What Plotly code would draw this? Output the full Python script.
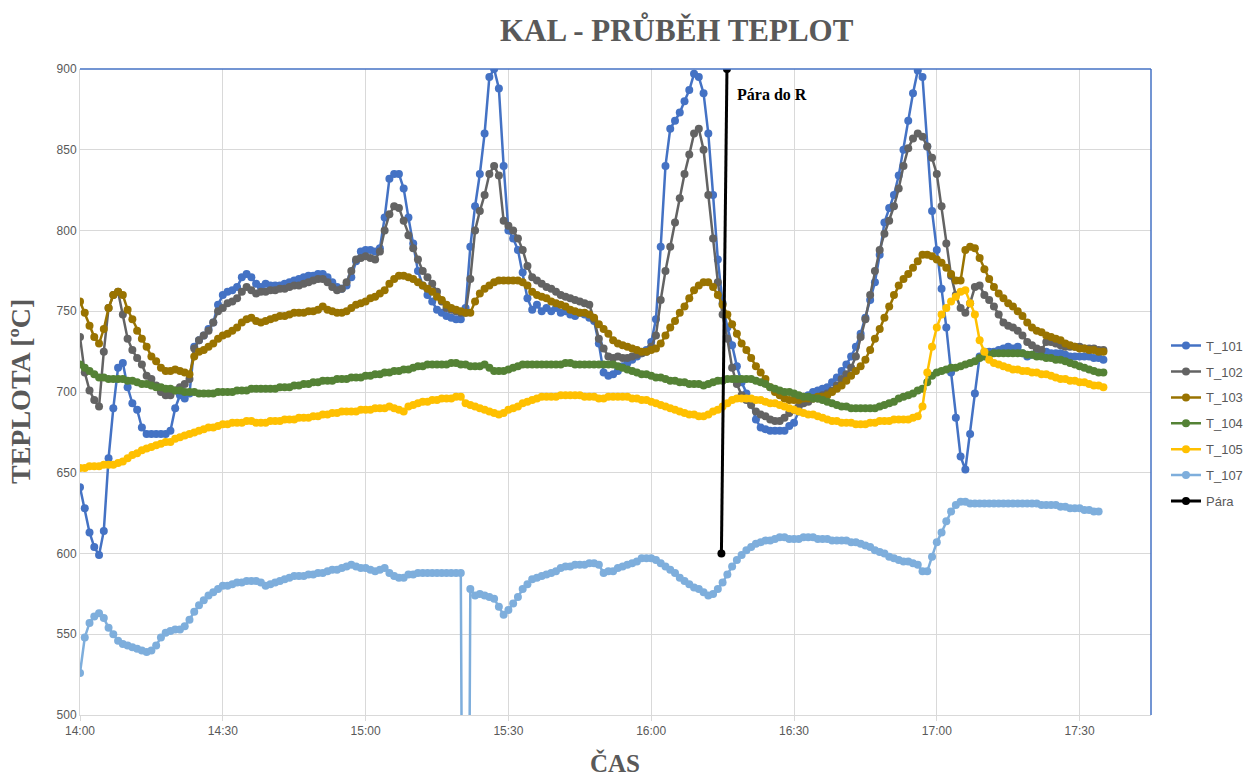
import pandas as pd
import plotly.graph_objects as go

# Sampling: one reading per minute starting at 14:00
start = pd.Timestamp("2021-03-01 14:00")

t_101 = [
    641, 628, 613, 604, 599, 614, 659, 690, 715, 718,
    703, 693, 689, 678, 674, 674, 674, 674, 674, 676,
    690, 698, 696, 699, 728, 732, 735, 739, 743, 754,
    760, 762, 763, 765, 771, 773, 771, 767, 765, 767,
    766, 766, 766, 767, 768, 769, 770, 771, 772, 772,
    773, 773, 771, 768, 765, 764, 766, 771, 781, 787,
    788, 788, 787, 789, 808, 832, 835, 835, 826, 808,
    792, 775, 766, 760, 756, 751, 749, 747, 746, 745,
    745, 752, 790, 815, 835, 860, 895, 900, 888, 840,
    800, 795, 788, 774, 758, 751, 754, 750, 752, 750,
    752, 749, 750, 748, 747, 749, 748, 746, 744, 730,
    712, 710, 711, 713, 716, 718, 720, 722, 724, 726,
    731, 745, 790, 840, 863, 868, 873, 880, 887, 897,
    895, 885, 860, 822, 782, 755, 740, 729, 716, 706,
    699, 693, 683, 678, 677, 676, 676, 676, 676, 679,
    681, 688, 694, 698, 700, 701, 702, 703, 706, 709,
    713, 717, 722, 728, 736, 746, 757, 768, 785, 805,
    814, 822, 834, 850, 868, 885, 899, 895, 852, 812,
    788, 764, 740, 712, 684, 660, 652, 674, 699, 722,
    725, 725, 725, 726, 727, 728, 727, 728, 724, 722,
    723, 725, 725, 725, 724, 724, 724, 723, 722, 722,
    722, 722, 722, 721, 721, 720,
]

t_102 = [
    734, 712, 701, 695, 691, 725, 752, 760, 762, 748,
    733, 726, 721, 717, 710, 708, 704, 700, 698, 698,
    701, 703, 705, 708, 727, 732, 735, 738, 743, 750,
    752, 755, 756, 758, 762, 765, 763, 761, 762, 762,
    763, 763, 764, 764, 765, 766, 766, 767, 768, 769,
    770, 770, 768, 765, 763, 764, 768, 775, 782, 783,
    784, 783, 782, 787, 800, 810, 815, 814, 806, 797,
    789, 782, 775, 771, 767, 762, 756, 752, 751, 750,
    749, 749, 770, 800, 812, 822, 835, 840, 834, 806,
    803, 800, 795, 788, 778, 771, 769, 767, 765, 764,
    762, 760, 759, 758, 757, 756, 755, 754, 745, 733,
    727, 722, 721, 722, 721, 721, 722, 723, 724, 725,
    728, 735, 757, 775, 790, 805, 820, 835, 847, 860,
    863, 850, 822, 795, 768, 748, 733, 715, 705, 698,
    695, 692, 688, 686, 685, 683, 682, 682, 684, 687,
    689, 691, 693, 694, 696, 696, 698, 699, 701, 704,
    708, 711, 715, 722, 734, 745, 760, 775, 788, 798,
    806, 815, 826, 840, 851, 857, 860, 858, 852, 845,
    835, 815, 792, 772, 760, 752, 749, 755, 765, 766,
    760, 757, 753, 748, 743, 741, 740, 738, 735, 731,
    729, 727, 726, 731, 731, 730, 729, 728, 728, 728,
    728, 727, 727, 727, 726, 726,
]

t_103 = [
    756, 749, 741, 734, 730, 739, 752, 760, 762, 760,
    751, 745, 738, 733, 728, 722, 719, 715, 713, 713,
    714, 713, 712, 711, 722, 725, 726, 728, 730, 733,
    735, 736, 738, 740, 743, 745, 746, 744, 743, 744,
    745, 746, 747, 747, 748, 749, 749, 749, 750, 750,
    751, 753, 751, 750, 749, 749, 750, 752, 754, 755,
    756, 758, 759, 761, 763, 767, 770, 772, 772, 771,
    770, 768, 766, 764, 762, 759, 757, 754, 752, 751,
    750, 749, 749, 756, 761, 764, 766, 768, 769, 769,
    769, 769, 769, 768, 766, 762, 760, 759, 758, 756,
    755, 754, 753, 751, 750, 749, 749, 748, 746, 742,
    739, 736, 732, 730, 729, 728, 727, 726, 725, 725,
    726, 727, 730, 735, 740, 744, 749, 753, 758, 763,
    766, 768, 768, 765, 760, 754, 748, 742, 736, 730,
    726, 721, 716, 712, 708, 703, 700, 698, 696, 695,
    695, 695, 696, 696, 696, 697, 697, 698, 700, 702,
    704, 707, 710, 713, 716, 720, 726, 733, 739, 746,
    753, 760, 766, 770, 773, 777, 781, 785, 785, 784,
    782, 780, 777, 773, 769, 769, 788, 790, 789, 783,
    776, 770, 765, 761, 758, 755, 753, 750, 747, 743,
    740, 738, 737, 735, 734, 733, 732, 730, 729, 728,
    727, 727, 726, 726, 725, 725,
]

t_104 = [
    717, 715, 713, 711, 709, 709, 708, 708, 708, 708,
    707, 707, 706, 705, 705, 704, 703, 703, 702, 702,
    701, 701, 700, 700, 700, 699, 699, 699, 699, 700,
    700, 700, 700, 701, 701, 701, 702, 702, 702, 702,
    702, 702, 703, 703, 703, 704, 704, 705, 705, 706,
    706, 707, 707, 707, 708, 708, 708, 709, 709, 709,
    710, 710, 711, 711, 712, 712, 713, 713, 714, 714,
    715, 716, 716, 717, 717, 717, 717, 717, 718, 718,
    717, 717, 716, 716, 716, 717, 715, 713, 713, 713,
    714, 715, 716, 717, 717, 717, 717, 717, 717, 717,
    717, 717, 718, 718, 717, 717, 717, 717, 717, 717,
    717, 717, 717, 716, 715, 714, 713, 712, 711, 711,
    710, 709, 709, 708, 707, 707, 706, 706, 705, 705,
    705, 704, 705, 706, 707, 707, 708, 708, 708, 708,
    708, 708, 707, 706, 705, 703, 702, 701, 700, 700,
    699, 698, 697, 697, 696, 696, 695, 694, 693, 692,
    691, 691, 690, 690, 690, 690, 690, 690, 691, 692,
    693, 694, 696, 697, 698, 699, 701, 702, 706, 710,
    712, 713, 714, 715, 715, 716, 717, 718, 719, 721,
    722, 723, 724, 724, 724, 724, 724, 724, 724, 723,
    723, 722, 722, 721, 721, 720, 720, 719, 718, 717,
    716, 715, 714, 713, 712, 712,
]

t_105 = [
    653, 653, 654, 654, 654, 655, 655, 655, 656, 657,
    659, 661, 662, 664, 665, 666, 667, 668, 669, 669,
    671, 672, 673, 674, 675, 676, 677, 678, 678, 679,
    680, 680, 681, 681, 681, 682, 682, 681, 681, 681,
    682, 682, 682, 683, 683, 683, 684, 684, 684, 685,
    685, 686, 686, 687, 687, 688, 688, 688, 688, 689,
    689, 689, 690, 690, 690, 691, 690, 689, 688, 691,
    692, 693, 694, 694, 695, 695, 696, 696, 696, 697,
    697, 693, 692, 691, 690, 689, 688, 687, 686, 687,
    689, 690, 691, 693, 694, 695, 696, 697, 697, 697,
    697, 698, 698, 698, 698, 698, 697, 697, 697, 696,
    696, 697, 697, 697, 697, 697, 696, 696, 695, 695,
    694, 693, 692, 691, 690, 689, 688, 687, 686, 686,
    685, 685, 686, 688, 689, 691, 693, 695, 696, 696,
    696, 696, 695, 695, 694, 693, 693, 692, 691, 690,
    689, 688, 687, 686, 686, 685, 684, 683, 682, 682,
    681, 681, 681, 680, 680, 680, 681, 681, 682, 682,
    682, 683, 683, 683, 683, 684, 685, 691, 712, 728,
    740, 748, 752, 756, 759, 762, 763, 755, 748, 732,
    725, 720, 718, 717, 716, 715, 714, 714, 713, 713,
    712, 712, 711, 711, 710, 709, 708, 708, 707, 707,
    706, 706, 705, 704, 704, 703,
]

# T_107 has one failed reading (logged as 0) shortly after 15:20
t_107 = [
    526, 548, 557, 561, 563, 560, 554, 550, 546, 544,
    543, 542, 541, 540, 539, 540, 543, 548, 551, 552,
    553, 553, 555, 559, 564, 568, 571, 574, 576, 578,
    580, 580, 581, 582, 582, 583, 583, 583, 582, 580,
    581, 582, 583, 584, 585, 586, 586, 586, 587, 587,
    588, 588, 589, 590, 590, 591, 592, 593, 592, 591,
    591, 590, 589, 590, 591, 588, 586, 585, 585, 587,
    587, 588, 588, 588, 588, 588, 588, 588, 588, 588,
    588, 0, 578, 574, 575, 574, 573, 572, 567, 562,
    565, 569, 573, 578, 581, 584, 585, 586, 587, 588,
    589, 591, 592, 592, 593, 593, 593, 594, 594, 593,
    588, 589, 589, 591, 592, 593, 594, 595, 597, 597,
    597, 596, 594, 592, 590, 588, 585, 583, 581, 579,
    578, 576, 574, 575, 578, 582, 587, 592, 596, 599,
    602, 604, 606, 607, 608, 608, 609, 610, 610, 609,
    609, 609, 610, 610, 610, 609, 609, 609, 608, 608,
    608, 608, 607, 607, 606, 605, 604, 602, 601, 600,
    598, 597, 596, 595, 595, 594, 593, 589, 589, 598,
    607, 613, 620, 626, 630, 632, 632, 631, 631, 631,
    631, 631, 631, 631, 631, 631, 631, 631, 631, 631,
    631, 631, 630, 630, 630, 630, 629, 629, 628, 628,
    628, 627, 627, 626, 626,
]

# Steam into the reactor: marker line
para_times = ["2021-03-01 16:15:55", "2021-03-01 16:14:45"]
para_values = [900, 600]

series = [
    ("T_101", t_101, "#4472C4"),
    ("T_102", t_102, "#636363"),
    ("T_103", t_103, "#997300"),
    ("T_104", t_104, "#548235"),
    ("T_105", t_105, "#FFC000"),
    ("T_107", t_107, "#7EAEDC"),
]

tick_vals = pd.date_range("2021-03-01 14:00", "2021-03-01 17:30", freq="30min")
tick_text = [t.strftime("%H:%M") for t in tick_vals]

fig = go.Figure()
for name, vals, color in series:
    times = pd.date_range(start, periods=len(vals), freq="1min")
    fig.add_trace(go.Scatter(
        x=times, y=vals, name=name, mode="lines+markers",
        line=dict(color=color, width=2.5),
        marker=dict(color=color, size=8),
        legendgroup=name,
    ))

fig.add_trace(go.Scatter(
    x=pd.to_datetime(para_times), y=para_values, name="Pára",
    mode="lines+markers",
    line=dict(color="#000000", width=3),
    marker=dict(color="#000000", size=8),
    legendgroup="Pára",
))

grid = "#D9D9D9"
text_gray = "#595959"
serif = "Liberation Serif, Times New Roman, serif"
narrow = "Liberation Sans Narrow, Arial Narrow, Liberation Sans, sans-serif"

fig.update_layout(
    width=1247, height=778,
    margin=dict(l=80, r=96, t=69, b=63, autoexpand=False),
    paper_bgcolor="white", plot_bgcolor="white",
    showlegend=True,
    legend=dict(
        x=1.014, xanchor="left", y=0.595, yanchor="top",
        font=dict(family=narrow, size=13, color=text_gray),
        itemwidth=30, tracegroupgap=6, traceorder="grouped",
        bgcolor="rgba(0,0,0,0)",
    ),
    xaxis=dict(
        type="date",
        range=["2021-03-01 14:00", "2021-03-01 17:45"],
        tickvals=tick_vals, ticktext=tick_text,
        showgrid=True, gridcolor=grid, gridwidth=1,
        showline=True, linecolor=grid, linewidth=1,
        ticks="outside", ticklen=5, tickcolor=grid,
        tickfont=dict(family=narrow, size=12, color=text_gray),
        zeroline=False,
    ),
    yaxis=dict(
        range=[500, 900], dtick=50, tick0=500,
        showgrid=True, gridcolor=grid, gridwidth=1,
        showline=True, linecolor=grid, linewidth=1,
        tickfont=dict(family=narrow, size=12, color=text_gray),
        ticks="", zeroline=False,
    ),
    annotations=[
        dict(text="<b>KAL - PRŮBĚH TEPLOT</b>", xref="paper", yref="paper",
             x=0.557, y=1.0604, xanchor="center", yanchor="middle",
             showarrow=False, font=dict(family=serif, size=31, color=text_gray)),
        dict(text="<b>TEPLOTA [ºC]</b>", xref="paper", yref="paper",
             x=-0.056, y=0.5, xanchor="center", yanchor="middle", textangle=-90,
             showarrow=False, font=dict(family=serif, size=28, color=text_gray)),
        dict(text="<b>ČAS</b>", xref="paper", yref="paper",
             x=0.4995, y=-0.075, xanchor="center", yanchor="middle",
             showarrow=False, font=dict(family=serif, size=25, color=text_gray)),
        dict(text="<b>Pára do R</b>", xref="paper", yref="paper",
             x=0.612, y=0.961, xanchor="left", yanchor="middle",
             showarrow=False, font=dict(family=serif, size=16, color="#000000")),
    ],
    shapes=[
        dict(type="line", xref="x domain", yref="y domain", x0=0, x1=1, y0=1, y1=1,
             line=dict(color="#4472C4", width=1.5)),
        dict(type="line", xref="x domain", yref="y domain", x0=1, x1=1, y0=0, y1=1,
             line=dict(color="#4472C4", width=1.5)),
    ],
)

fig.write_html("out.html")
